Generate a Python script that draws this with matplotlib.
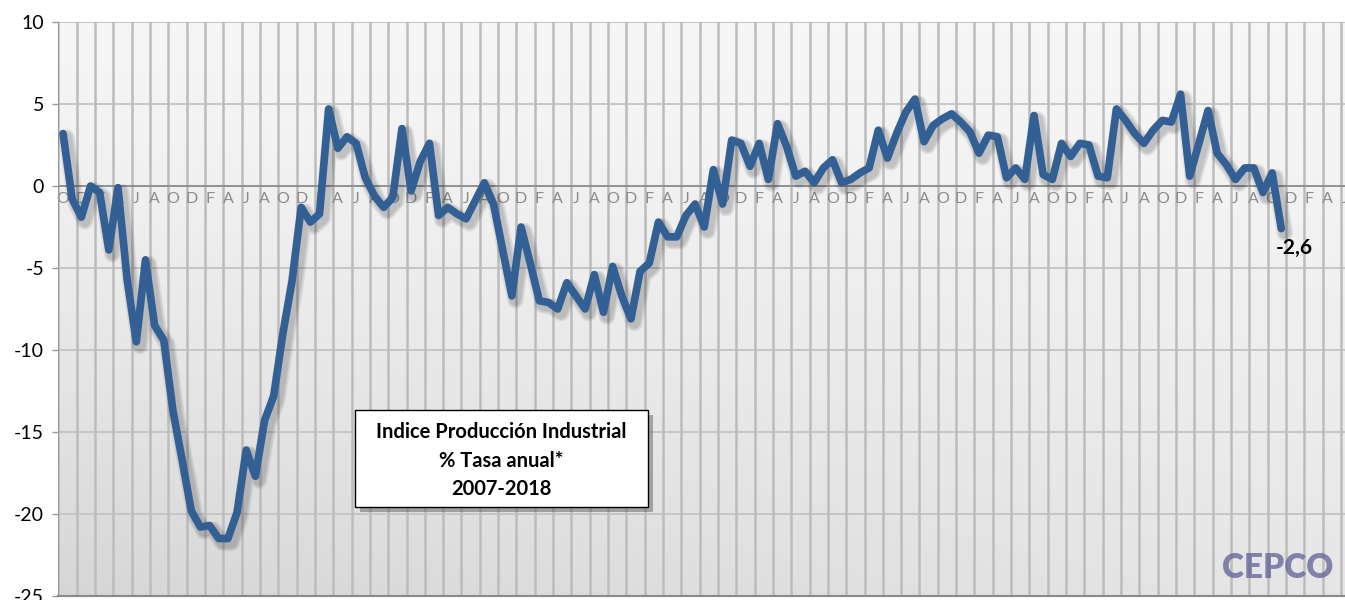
import numpy as np
import matplotlib
matplotlib.use("Agg")
import matplotlib.pyplot as plt
import matplotlib.patheffects as pe
from matplotlib.patches import Rectangle

plt.rcParams['font.family'] = ['Lato', 'DejaVu Sans']

# IPI, % tasa anual, Oct 2007 - Nov 2018 (one value per month)
start_month = 9  # octubre (0 = enero)
ipi = [3.2, -0.8, -1.9, 0.0, -0.4, -3.9, -0.1, -5.7, -9.5, -4.5,
       -8.5, -9.4, -13.7, -16.7, -19.8, -20.8, -20.7, -21.5, -21.5, -19.9,
       -16.1, -17.7, -14.3, -12.8, -9.0, -5.8, -1.3, -2.2, -1.7, 4.7,
       2.3, 3.0, 2.6, 0.5, -0.6, -1.3, -0.7, 3.5, -0.3, 1.5,
       2.6, -1.8, -1.3, -1.7, -2.0, -0.9, 0.2, -1.1, -3.9, -6.7,
       -2.5, -4.7, -7.0, -7.1, -7.5, -5.9, -6.7, -7.5, -5.4, -7.7,
       -4.9, -6.7, -8.1, -5.2, -4.7, -2.2, -3.1, -3.1, -1.8, -1.1,
       -2.5, 1.0, -1.1, 2.8, 2.6, 1.2, 2.6, 0.4, 3.8, 2.4,
       0.6, 0.9, 0.2, 1.1, 1.6, 0.2, 0.4, 0.8, 1.1, 3.4,
       1.7, 3.2, 4.5, 5.3, 2.7, 3.7, 4.1, 4.4, 3.9, 3.3,
       2.0, 3.1, 3.0, 0.5, 1.1, 0.4, 4.3, 0.7, 0.4, 2.6,
       1.8, 2.6, 2.5, 0.6, 0.5, 4.7, 4.0, 3.2, 2.6, 3.4,
       4.0, 3.9, 5.6, 0.6, 2.6, 4.6, 2.0, 1.3, 0.4, 1.1,
       1.1, -0.4, 0.8, -2.6]
month_initials = ['E', 'F', 'M', 'A', 'M', 'J', 'J', 'A', 'S', 'O', 'N', 'D']
n_axis_months = 141  # axis runs on to mid 2019
y_ticks = [10, 5, 0, -5, -10, -15, -20, -25]
title_lines = ['Indice Producción Industrial', '% Tasa anual*', '2007-2018']

W, H = 1345, 600
fig = plt.figure(figsize=(W / 100, H / 100), dpi=100)
fig.patch.set_facecolor('white')

xmin, xmax = -0.55, 141.5
ax = fig.add_axes([58 / W, 4 / H, 9.16 * (xmax - xmin) / W, 574 / H])
ax.set_xlim(xmin, xmax)
ax.set_ylim(-25, 10)

# gradient background of the plot area
gx = np.linspace(0, 1, 200)
gy = np.linspace(0, 1, 200)
GX, GY = np.meshgrid(gx, gy)
shade = 0.965 - 0.125 * (1 - GY) ** 1.3 * (1 - 0.5 * GX)
ax.imshow(np.dstack([shade, shade, shade]), extent=[xmin, xmax, -25, 10],
          origin='lower', aspect='auto', zorder=0)

# grid
for v in y_ticks:
    if v != 0:
        ax.axhline(v, color='#c3c3c3', lw=1.3, zorder=1)
for g in np.arange(-0.5, xmax, 2):
    ax.axvline(g, color='#bcbcbc', lw=1.8, zorder=1)
ax.axhline(0, color='#8a8a8a', lw=1.3, zorder=2)

# month letters along the zero line
for i in range(0, n_axis_months, 2):
    ax.annotate(month_initials[(start_month + i) % 12], (i, 0),
                xytext=(0, -9.5), textcoords='offset points',
                ha='center', va='center', fontsize=11.5, color='#8c8c8c',
                zorder=2)

# series with soft shadow
x = np.arange(len(ipi))
shadow = [pe.SimpleLineShadow(offset=(2.5, -3), shadow_color='black',
                              alpha=0.07, linewidth=w) for w in (12, 10, 8)]
ax.plot(x, ipi, color='#336094', lw=5.5, solid_joinstyle='round',
        solid_capstyle='round', zorder=5,
        path_effects=shadow + [pe.Normal()])

ax.annotate('-2,6', (x[-1], ipi[-1]), xytext=(9, -14),
            textcoords='offset points', ha='center', va='center',
            fontsize=15, fontweight='bold', color='black', zorder=6)

# axes
ax.set_yticks(y_ticks)
ax.set_yticklabels([str(v) for v in y_ticks])
ax.set_xticks([])
ax.tick_params(axis='y', length=4, width=1, color='#9a9a9a', pad=6,
               labelsize=14, labelcolor='black')
for s in ['top', 'right']:
    ax.spines[s].set_visible(False)
ax.spines['left'].set_color('#9a9a9a')
ax.spines['bottom'].set_color('#8a8a8a')
ax.spines['bottom'].set_linewidth(1.5)

# title box with shadow
bx, by, bw, bh = 355 / W, (H - 507) / H, 293 / W, 97 / H
fig.patches.append(Rectangle((bx + 5 / W, by - 5 / H), bw, bh,
                             transform=fig.transFigure, facecolor='#555555',
                             alpha=0.45, edgecolor='none', zorder=8))
fig.patches.append(Rectangle((bx, by), bw, bh, transform=fig.transFigure,
                             facecolor='white', edgecolor='black', lw=1.0,
                             zorder=9))
for line, ypx in zip(title_lines, [432, 461, 489]):
    fig.text(501.5 / W, (H - ypx) / H, line, ha='center', va='center',
             fontsize=14.5, fontweight='bold', color='black', zorder=10)

# logo text
fig.text(1278 / W, (H - 568) / H, 'CEPCO', ha='center', va='center',
         fontsize=24, fontweight='heavy', color='#5f5f95', alpha=0.75,
         zorder=10)

fig.savefig('out.png', dpi=100)
